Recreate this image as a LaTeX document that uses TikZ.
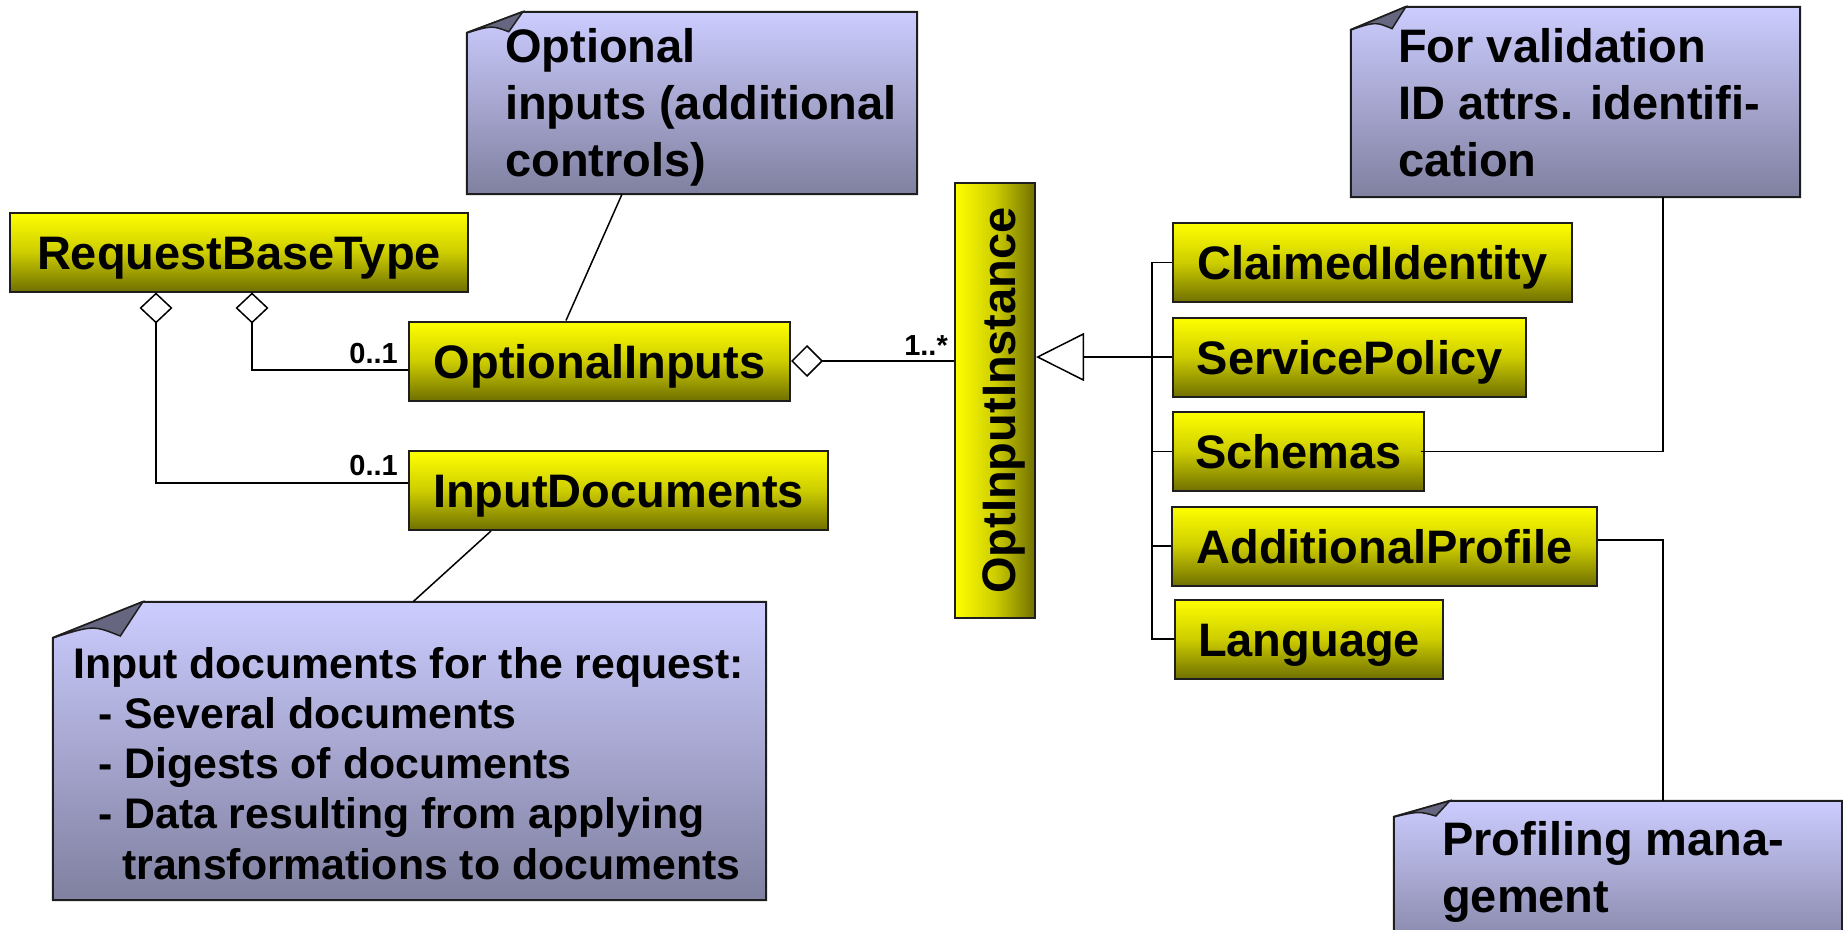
\documentclass[tikz,border=0pt]{standalone}
\usepackage{fontspec}
\setmainfont{Liberation Sans}
\usepackage{graphicx}
\usepackage{xcolor}
\usetikzlibrary{arrows.meta,backgrounds}
\definecolor{classtop}{RGB}{255,255,0}
\definecolor{classmid}{RGB}{205,205,0}
\definecolor{classbot}{RGB}{112,112,0}
\definecolor{notetop}{RGB}{204,204,255}
\definecolor{notebot}{RGB}{128,128,160}
\definecolor{foldgray}{RGB}{102,102,128}
\definecolor{edgegray}{RGB}{30,30,30}

\tikzset{
    boxbase/.style={draw=edgegray, line width=2pt, inner sep=0pt, minimum height=79pt,
        font=\bfseries\fontsize{47}{57}\selectfont},
    classbox/.style={boxbase, top color=classtop, bottom color=classbot, middle color=classmid,
        text height=34pt, text depth=0pt},
    notebox/.style={inner sep=0pt},
    notefill/.style={draw=edgegray, line width=2pt, top color=notetop, bottom color=notebot},
    foldfill/.style={draw=edgegray, line width=1.5pt, fill=foldgray},
    notetext/.style={font=\bfseries\fontsize{47}{57}\selectfont, align=left,
        anchor=north west, inner sep=0pt, execute at begin node=\strut},
    mult/.style={font=\bfseries\fontsize{29}{34}\selectfont, anchor=base east, inner sep=0pt},
    link/.style={line width=1.5pt, draw=black},
    aggr/.style={link, -{Diamond[open, length=31pt, width=33pt]}},
    inherit/.style={link, -{Triangle[open, length=48pt, width=48pt]}}
}

\begin{document}
\begin{tikzpicture}[x=1pt, y=-1pt]
                \useasboundingbox (0,0) rectangle (1843,929);

                \node[classbox, minimum width=458pt] (req) at (239,252) {RequestBaseType};
                \node[classbox, minimum width=381pt] (opt) at (599.5,361) {OptionalInputs};
                \node[classbox, minimum width=419pt] (docs) at (618.5,490.5) {InputDocuments};
                \node[boxbase, left color=classtop, right color=classbot, middle color=classmid,
                    minimum width=80pt, minimum height=435pt] (inst) at (995,400.5)
                    {\hspace*{9pt}\rotatebox{90}{\raisebox{0pt}[\height][0pt]{OptInputInstance}}};

                \node[classbox, minimum width=399pt] (claim) at (1372.5,262.5) {ClaimedIdentity};
                \node[classbox, minimum width=353pt] (svc) at (1349.5,357) {ServicePolicy};
                \node[classbox, minimum width=251pt] (sch) at (1298.5,451.5) {Schemas};
                \node[classbox, minimum width=425pt] (prof) at (1384.5,546) {AdditionalProfile};
                \node[classbox, minimum width=268pt] (lang) at (1309,639) {Language};

                \node[notebox, minimum width=450pt, minimum height=182pt] (noteopt) at (692,103) {};
                \node[notebox, minimum width=449pt, minimum height=190pt] (notevalid) at (1575.5,102) {};
                \node[notebox, minimum width=713pt, minimum height=298pt] (notedocs) at (409.5,751) {};
                \node[notebox, minimum width=448pt, minimum height=160pt] (noteprof) at (1618,881) {};

                \node[notetext] (txtopt) at (505,28) {Optional\\inputs (additional\\controls)};
                \node[notetext] (txtvalid) at (1398,28) {For validation\\ID attrs. identifi-\\cation};
                \node[notetext] (txtprof) at (1442,821) {Profiling mana-\\gement};
                \node[notetext, font=\bfseries\fontsize{42.8}{50.25}\selectfont] (txtdocs) at (73,647)
                    {Input documents for the request:\\
                     \hspace*{25pt}- Several documents\\
                     \hspace*{25pt}- Digests of documents\\
                     \hspace*{25pt}- Data resulting from applying\\
                     \hspace*{49pt}transformations to documents};

                \begin{scope}[on background layer]
                    \foreach \n/\dx/\dy in {noteopt/56/21, notevalid/55/23, notedocs/90/36, noteprof/56/16} {
                        \shadedraw[notefill] ([shift={(0,\dy)}]\n.north west) -- ([shift={(\dx,0)}]\n.north west)
                            -- (\n.north east) -- (\n.south east) -- (\n.south west) -- cycle;
                        \filldraw[foldfill] ([shift={(0,\dy)}]\n.north west) -- ([shift={(\dx,0)}]\n.north west)
                            -- ([shift={(0.75*\dx,0.95*\dy)}]\n.north west)
                            .. controls ([shift={(0.45*\dx,0.65*\dy)}]\n.north west) .. ([shift={(0,\dy)}]\n.north west) -- cycle;
                    }
                \end{scope}

                \draw[aggr] ([shift={(0,9)}]opt.west) -| ([shift={(13,0)}]req.south);
                \draw[aggr] ([shift={(0,-7.5)}]docs.west) -| ([shift={(-83,0)}]req.south);
                \node[mult] (m1) at (398,363) {0..1};
                \node[mult] (m2) at (398,475) {0..1};

                \draw[link, {Diamond[open, length=32pt, width=32pt]}-] (opt.east) -- (opt.east -| inst.west);
                \node[mult] (m3) at (948,355) {1..*};

                \draw[inherit] (svc.west) -- (svc.west -| inst.east);
                \draw[link] (claim.west) -- ++(-20,0) |- (lang.west);
                \draw[link] (sch.west) -- ++(-20,0);
                \draw[link] (prof.west) -- ++(-20,0);

                \draw[link] ([shift={(-70,0)}]noteopt.south) -- ([shift={(-33.5,0)}]opt.north);
                \draw[link] ([shift={(-127.5,0)}]docs.south) -- ([shift={(3.5,0)}]notedocs.north);
                \draw[link] ([shift={(-4,0)}]sch.east) -| ([shift={(87.5,0)}]notevalid.south);
                \draw[link] ([shift={(0,-6)}]prof.east) -| ([shift={(45,0)}]noteprof.north);
            \end{tikzpicture}
\end{document}
